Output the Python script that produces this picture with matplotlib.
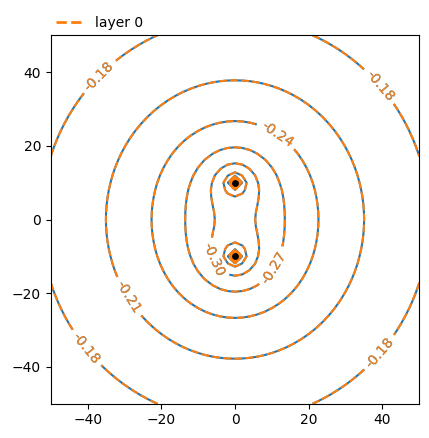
import numpy as np
import matplotlib
matplotlib.use('Agg')
import matplotlib.pyplot as plt
from matplotlib.lines import Line2D

# two point sources on the y axis (log potential)
source_x = [0.0, 0.0]
source_y = [10.0, -10.0]
strength = 0.0388     # potential per unit ln(r1*r2)
offset = -0.489

levels = [-0.75, -0.72, -0.69, -0.66, -0.63, -0.60, -0.57, -0.54, -0.51,
          -0.48, -0.45, -0.42, -0.39, -0.36, -0.33, -0.30, -0.27, -0.24,
          -0.21, -0.18]

# where the contour labels sit
label_pos = [(-38, 40), (39, 36), (-38, -33), (38, -35),
             (-29, -21), (12, 24), (9, -12), (-6, -11)]

x = np.linspace(-50, 50, 51)
y = np.linspace(-50, 50, 51)
X, Y = np.meshgrid(x, y)
prod = np.ones_like(X)
for sx, sy in zip(source_x, source_y):
    prod = prod * np.hypot(X - sx, Y - sy)
Z = offset + strength * np.log(np.maximum(prod, 1e-3))

fig = plt.figure(figsize=(4.29, 4.38), dpi=100)
ax = fig.add_axes([0.1184, 0.0776, 0.8588, 0.8425])

cs0 = ax.contour(X, Y, Z, levels=levels, colors='C0', linestyles='solid',
                 linewidths=1.5)
ax.clabel(cs0, fmt='%.2f', fontsize=10, colors='C0', manual=label_pos)
cs1 = ax.contour(X, Y, Z, levels=levels, colors='C1', linestyles='dashed',
                 linewidths=1.5)
ax.clabel(cs1, fmt='%.2f', fontsize=10, colors='C1', manual=label_pos)

ax.scatter(source_x, source_y, c='k', s=15, zorder=5)

ax.set_xlim(-50, 50)
ax.set_ylim(-50, 50)
ax.set_aspect('equal')

handle = Line2D([], [], color='C1', linestyle='--', linewidth=2)
ax.legend([handle], ['layer 0'], loc='lower left', bbox_to_anchor=(0, 1),
          frameon=False, borderaxespad=0)

fig.savefig('out.png', dpi=100)
